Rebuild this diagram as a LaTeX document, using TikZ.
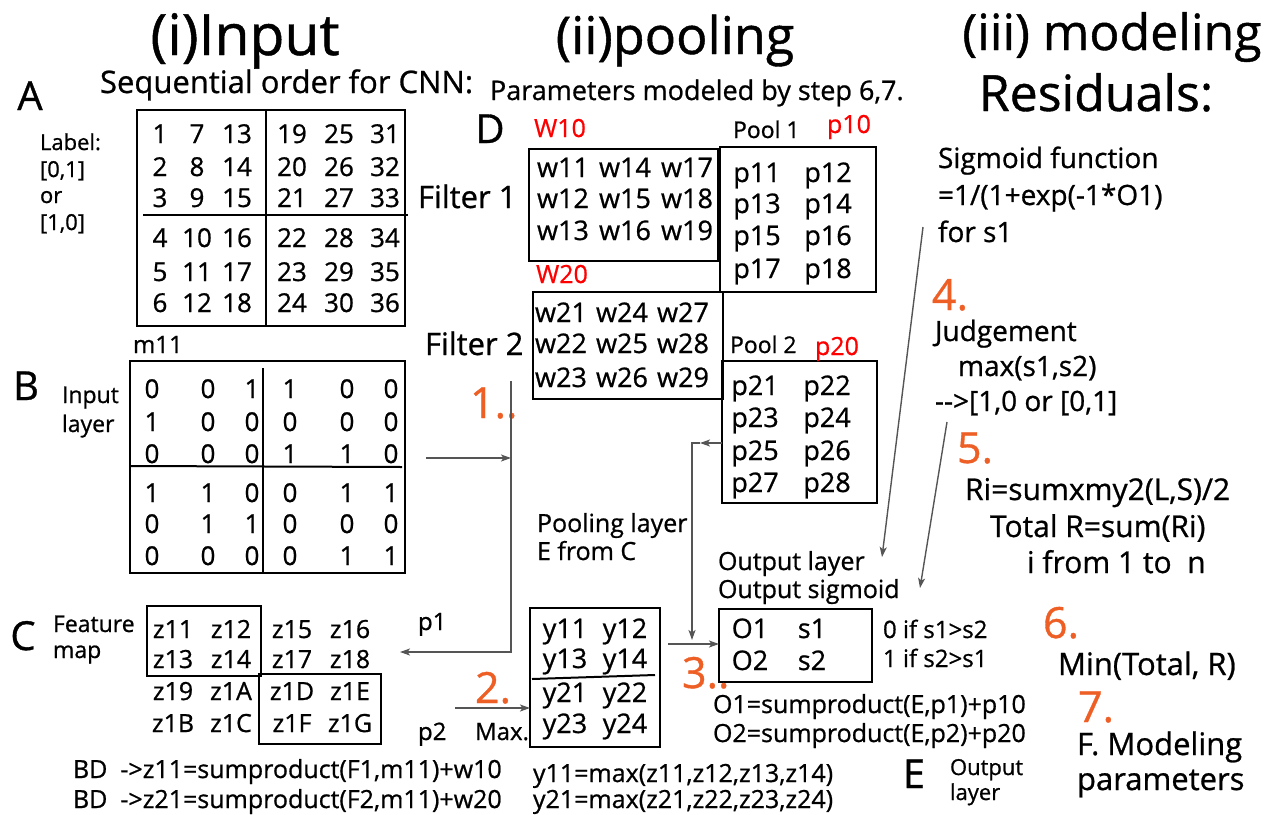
\documentclass[tikz,border=0pt]{standalone}
\usepackage{fontspec}
\setmainfont{Open Sans}[FakeBold=0.8]
\usetikzlibrary{arrows.meta}
\definecolor{stepcol}{RGB}{238,95,38}
\definecolor{wire}{RGB}{85,85,85}

% one row of a number grid: prefix, row index, baseline y, column x list, cell texts
\newcommand\gridrow[5]{%
  \foreach \v [count=\c from 0] in {#5} {%
    \pgfmathsetmacro\xc{{#4}[\c]}%
    \node[cell] (#1-#2-\c) at (\xc,#3) {\v};%
  }%
}

\begin{document}
\begin{tikzpicture}[x=1pt,y=-1pt,
  every node/.style={inner sep=0pt, outer sep=0pt},
  fs/.style={font=\fontsize{#1}{#1}\selectfont},
  box/.style={draw=black, line width=2.4pt},
  divider/.style={draw=black, line width=2pt},
  cell/.style={fs=26, anchor=base},
  txt/.style={fs=25, anchor=base west},
  title/.style={fs=52, anchor=base},
  letter/.style={fs=40, anchor=base},
  stepnum/.style={fs=43, text=stepcol, anchor=base west},
  redlbl/.style={fs=25, text=red, anchor=base},
  wireline/.style={draw=wire, line width=1.4pt},
  wirearrow/.style={draw=wire, line width=1.4pt, -{Stealth[length=10pt,width=7pt,inset=2.5pt]}},
]
\useasboundingbox (0,0) rectangle (1271,814);

% ---------- column headings ----------
\node[title, fs=57] (hInput) at (245,55) {(i)Input};
\node[title] (hPool) at (675,54) {(ii)pooling};
\node[title, fs=50] (hModel) at (1112,50) {(iii) modeling};
\node[title, fs=50] (hResid) at (1096,111) {Residuals:};
\node[txt, fs=31] (subA) at (100,93) {Sequential order for CNN:};
\node[txt, fs=27] (subB) at (490,100) {Parameters modeled by step 6,7.};

% ---------- panel letters ----------
\node[letter] (lA) at (30,110) {A};
\node[letter] (lB) at (26,400) {B};
\node[letter] (lC) at (23,650) {C};
\node[letter] (lD) at (490,143) {D};
\node[letter] (lE) at (914,788) {E};

% ---------- A: sequential order ----------
\node[txt, fs=22] (lab1) at (40,150) {Label:};
\node[txt, fs=22] (lab2) at (40,177) {[0,1]};
\node[txt, fs=22] (lab3) at (40,203) {or};
\node[txt, fs=22] (lab4) at (40,230) {[1,0]};

\node[box, minimum width=268pt, minimum height=216pt] (gridA) at (271,218) {};
\draw[divider] (266,110) -- (266,326);
\draw[divider] (143,215) -- (408,215);
\def\colA{160,197,237,292,339,385}
\gridrow{a}{0}{143}{\colA}{1,7,13,19,25,31}
\gridrow{a}{1}{176}{\colA}{2,8,14,20,26,32}
\gridrow{a}{2}{207}{\colA}{3,9,15,21,27,33}
\gridrow{a}{3}{247}{\colA}{4,10,16,22,28,34}
\gridrow{a}{4}{281}{\colA}{5,11,17,23,29,35}
\gridrow{a}{5}{312}{\colA}{6,12,18,24,30,36}

% ---------- B: input layer ----------
\node[txt, fs=24] (m11) at (133,353) {m11};
\node[txt, fs=23] (inp1) at (62,403) {Input};
\node[txt, fs=23] (inp2) at (62,432) {layer};
\node[box, minimum width=275pt, minimum height=212pt] (gridB) at (267.5,467) {};
\draw[divider] (263,368) -- (263,573);
\draw[divider] (131,466) -- (402,467);
\def\colB{152,208,252,290,347,391}
\gridrow{b}{0}{398}{\colB}{0,0,1,1,0,0}
\gridrow{b}{1}{431}{\colB}{1,0,0,0,0,0}
\gridrow{b}{2}{463}{\colB}{0,0,0,1,1,0}
\gridrow{b}{3}{502}{\colB}{1,1,0,0,1,1}
\gridrow{b}{4}{533}{\colB}{0,1,1,0,0,0}
\gridrow{b}{5}{565}{\colB}{0,0,0,0,1,1}

% ---------- C: feature map ----------
\node[txt, fs=23] (fm1) at (53,632) {Feature};
\node[txt, fs=23] (fm2) at (53,658) {map};
\node[box, minimum width=114pt, minimum height=70pt] (zbox1) at (204,641) {};
\node[box, minimum width=122pt, minimum height=70pt] (zbox2) at (320,709) {};
\def\colZ{173,231,292,350}
\tikzset{cell/.append style={fs=25}}
\gridrow{z}{0}{638}{\colZ}{z11,z12,z15,z16}
\gridrow{z}{1}{668}{\colZ}{z13,z14,z17,z18}
\gridrow{z}{2}{700}{\colZ}{z19,z1A,z1D,z1E}
\gridrow{z}{3}{732}{\colZ}{z1B,z1C,z1F,z1G}
\tikzset{cell/.append style={fs=27}}

\node[txt] (eqz1) at (73,778) {BD\ \ ->z11=sumproduct(F1,m11)+w10};
\node[txt] (eqz2) at (73,808) {BD\ \ ->z21=sumproduct(F2,m11)+w20};

% ---------- D: filters and pools ----------
\node[txt, fs=31] (f1lbl) at (418,208) {Filter 1};
\node[txt, fs=31] (f2lbl) at (425,355) {Filter 2};
\node[redlbl] (w10) at (560,137) {W10};
\node[redlbl] (w20) at (562,283) {W20};

\node[box, minimum width=189pt, minimum height=112pt] (filter1) at (623.5,205) {};
\node[box, minimum width=156pt, minimum height=145pt] (pool1) at (798,219.5) {};
\node[box, minimum width=190pt, minimum height=107pt] (filter2) at (628,345.5) {};
\node[box, minimum width=155pt, minimum height=142pt] (pool2) at (799.5,432) {};

\gridrow{wa}{0}{177}{563,625,687}{w11,w14,w17}
\gridrow{wa}{1}{208}{563,625,687}{w12,w15,w18}
\gridrow{wa}{2}{240}{563,625,687}{w13,w16,w19}
\gridrow{wb}{0}{322}{561,622,683}{w21,w24,w27}
\gridrow{wb}{1}{353}{561,622,683}{w22,w25,w28}
\gridrow{wb}{2}{387}{561,622,683}{w23,w26,w29}

\node[txt, fs=23] (pool1lbl) at (733,138) {Pool 1};
\node[txt, fs=25, text=red] (p10) at (827,133) {p10};
\gridrow{pa}{0}{182}{757,828}{p11,p12}
\gridrow{pa}{1}{213}{757,828}{p13,p14}
\gridrow{pa}{2}{245}{757,828}{p15,p16}
\gridrow{pa}{3}{278}{757,828}{p17,p18}

\node[txt, fs=23] (pool2lbl) at (730,353) {Pool 2};
\node[txt, fs=25, text=red] (p20) at (815,355) {p20};
\gridrow{pb}{0}{395}{755,827}{p21,p22}
\gridrow{pb}{1}{427}{755,827}{p23,p24}
\gridrow{pb}{2}{460}{755,827}{p25,p26}
\gridrow{pb}{3}{492}{755,827}{p27,p28}

% ---------- pooling layer ----------
\node[txt] (pl1) at (537,532) {Pooling layer};
\node[txt] (pl2) at (537,560) {E from C};
\node[box, minimum width=130pt, minimum height=139pt] (ybox) at (595,677.5) {};
\draw[divider] (532,679) -- (655,675);
\gridrow{y}{0}{638}{565,625}{y11,y12}
\gridrow{y}{1}{668}{565,625}{y13,y14}
\gridrow{y}{2}{702}{565,625}{y21,y22}
\gridrow{y}{3}{733}{565,625}{y23,y24}
\node[txt, fs=24] (p1lbl) at (418,630) {p1};
\node[txt, fs=24] (p2lbl) at (418,740) {p2};
\node[txt, fs=24] (maxlbl) at (475,740) {Max.};
\node[txt] (eqy1) at (533,782) {y11=max(z11,z12,z13,z14)};
\node[txt] (eqy2) at (533,808) {y21=max(z21,z22,z23,z24)};

% ---------- E: output layer ----------
\node[txt] (ol1) at (718,570) {Output layer};
\node[txt] (ol2) at (718,598) {Output sigmoid};
\node[box, minimum width=153pt, minimum height=73pt] (obox) at (795.5,645.5) {};
\gridrow{o}{0}{638}{750,812}{O1,s1}
\gridrow{o}{1}{670}{750,812}{O2,s2}
\node[txt, fs=24] (cmp1) at (883,638) {0 if s1>s2};
\node[txt, fs=24] (cmp2) at (883,667) {1 if s2>s1};
\node[txt] (eqo1) at (713,713) {O1=sumproduct(E,p1)+p10};
\node[txt] (eqo2) at (713,742) {O2=sumproduct(E,p2)+p20};
\node[txt, fs=22] (outl1) at (950,775) {Output};
\node[txt, fs=22] (outl2) at (950,800) {layer};

% ---------- residual modelling ----------
\node[txt, fs=28] (sig1) at (938,168) {Sigmoid function};
\node[txt, fs=28] (sig2) at (938,205) {=1/(1+exp(-1*O1)};
\node[txt, fs=28] (sig3) at (938,242) {for s1};
\node[txt, fs=28] (jdg1) at (935,341) {Judgement};
\node[txt, fs=28] (jdg2) at (958,376) {max(s1,s2)};
\node[txt, fs=28] (jdg3) at (935,411) {-{}->[1,0 or [0,1]};
\node[txt, fs=30] (res1) at (965,500) {Ri=sumxmy2(L,S)/2};
\node[txt, fs=30] (res2) at (990,537) {Total R=sum(Ri)};
\node[txt, fs=30] (res3) at (1027,573) {i from 1 to\ \ n};
\node[txt, fs=31] (minr) at (1058,675) {Min(Total, R)};
\node[txt, fs=31] (fmod1) at (1077,755) {F. Modeling};
\node[txt, fs=31] (fmod2) at (1077,790) {parameters};

% ---------- step numbers ----------
\node[stepnum] (s1) at (470,418) {1..};
\node[stepnum] (s2) at (475,703) {2.};
\node[stepnum] (s3) at (682,688) {3..};
\node[stepnum] (s4) at (932,310) {4.};
\node[stepnum] (s5) at (957,463) {5.};
\node[stepnum] (s6) at (1043,638) {6.};
\node[stepnum] (s7) at (1078,722) {7.};

% ---------- connectors ----------
\coordinate (feedIn) at (426,458);
\coordinate (busTop) at (511,381);
\coordinate (busJoin) at (511,458);
\coordinate (busBot) at (511,652);
\coordinate (fmapIn) at (400,652);
\draw[wirearrow] (feedIn) -- (busJoin);
\draw[wirearrow] (busTop) -- (busBot) -- (fmapIn);

\coordinate (maxIn) at (455,708);
\draw[wirearrow] (maxIn) -- (ybox.west |- maxIn);

\coordinate (poolOut) at (722,443);
\coordinate (poolTip) at (700,443);
\coordinate (poolTurn) at (692,443);
\coordinate (outJoin) at (692,640);
\draw[wirearrow] (poolOut) -- (poolTip);
\draw[wirearrow] (poolTip) -- (poolTurn) -- (outJoin);

\coordinate (yOut) at (668,644);
\draw[wirearrow] (yOut) -- (obox.west |- yOut);

\coordinate (sigStart) at (923,227);
\coordinate (sigEnd) at (882,557);
\draw[wirearrow] (sigStart) -- (sigEnd);
\coordinate (jdgStart) at (947,422);
\coordinate (jdgEnd) at (920,588);
\draw[wirearrow] (jdgStart) -- (jdgEnd);
\end{tikzpicture}
\end{document}
